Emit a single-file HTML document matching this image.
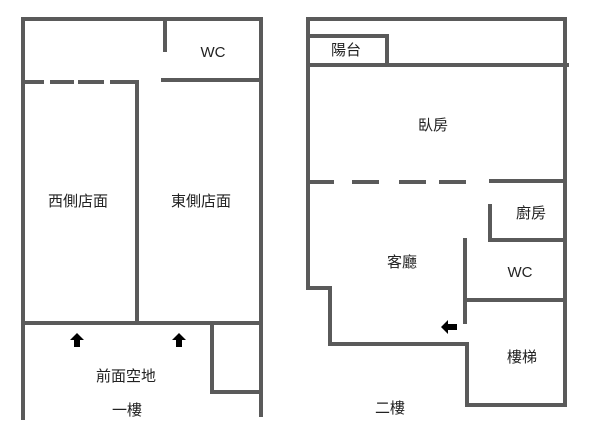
<!DOCTYPE html>
<html><head><meta charset="utf-8"><style>
html,body{margin:0;padding:0;background:#fff;width:600px;height:432px;overflow:hidden}
text{font-family:"Liberation Sans","Noto Sans CJK TC",sans-serif;font-size:15px;fill:#222}
</style></head><body>
<svg width="600" height="432" viewBox="0 0 600 432">
<g stroke="#5a5a5a" stroke-width="4" fill="none" stroke-linecap="square">
<polyline points="23,418 23,19 261,19 261,415"/>
<line x1="165" y1="19" x2="165" y2="50"/>
<line x1="163" y1="80" x2="261" y2="80"/>
<line x1="25" y1="82" x2="42" y2="82"/>
<line x1="52" y1="82" x2="72" y2="82"/>
<line x1="80" y1="82" x2="102" y2="82"/>
<polyline points="112,82 137,82 137,323"/>
<line x1="23" y1="323" x2="261" y2="323"/>
<polyline points="212,323 212,392 261,392"/>
<polyline points="308,288 308,19 565,19 565,405 467,405 467,344 330,344 330,288 308,288"/>
<polyline points="308,36 387,36 387,64"/>
<line x1="308" y1="65" x2="567" y2="65"/>
<line x1="308" y1="182" x2="332" y2="182"/>
<line x1="354" y1="182" x2="377" y2="182"/>
<line x1="401" y1="182" x2="424" y2="182"/>
<line x1="441" y1="182" x2="464" y2="182"/>
<line x1="491" y1="181" x2="565" y2="181"/>
<polyline points="490,206 490,240 565,240"/>
<line x1="465" y1="240" x2="465" y2="322"/>
<line x1="466" y1="300" x2="565" y2="300"/>
</g>
<g fill="#000">
<polygon points="77,333 84,340 80,340 80,347 74,347 74,340 70,340"/>
<polygon points="179,333 186,340 182,340 182,347 176,347 176,340 172,340"/>
<polygon points="441,327 448,320 448,324 457,324 457,330 448,330 448,334"/>
</g>
<g text-anchor="middle">
<text x="213" y="57">WC</text>
<text x="78" y="206">西側店面</text>
<text x="201" y="206">東側店面</text>
<text x="126" y="381">前面空地</text>
<text x="127" y="415">一樓</text>
<text x="346" y="55">陽台</text>
<text x="433" y="130">臥房</text>
<text x="531" y="218">廚房</text>
<text x="402" y="267">客廳</text>
<text x="520" y="277">WC</text>
<text x="522" y="362">樓梯</text>
<text x="390" y="413">二樓</text>
</g>
</svg>
</body></html>
